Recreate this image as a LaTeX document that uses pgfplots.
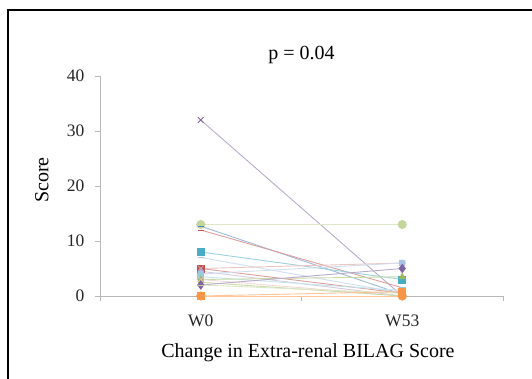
\documentclass[border=0pt]{standalone}
\usepackage{fontspec}
\setmainfont{Liberation Serif}
\usepackage{pgfplots}
\pgfplotsset{compat=1.18}
\definecolor{c1}{HTML}{4F81BD}
\definecolor{c2}{HTML}{C0504D}
\definecolor{c3}{HTML}{9BBB59}
\definecolor{c4}{HTML}{8064A2}
\definecolor{c5}{HTML}{4BACC6}
\definecolor{c6}{HTML}{F79646}
\definecolor{c7}{HTML}{A9C4E4}
\definecolor{c8}{HTML}{D99694}
\definecolor{c9}{HTML}{C3D69B}
\definecolor{c10}{HTML}{B3A2C7}
\definecolor{c11}{HTML}{92CDDC}
\definecolor{c12}{HTML}{E6B9B8}
\newcommand{\ser}[5]{\addplot[color=#1!55!white, line width=0.9pt, mark=#2, mark size=#3, mark options={draw=#1, fill=#1, solid, line width=1pt}] coordinates {(0,#4) (1,#5)};}
\begin{document}
\begin{tikzpicture}[x=1pt,y=1pt]
\useasboundingbox (0,0) rectangle (532,378);
\draw[line width=1.4pt] (8,-5) -- (8,368) -- (540,368);
\begin{axis}[
  at={(100pt,82pt)}, anchor=south west,
  scale only axis, width=403pt, height=220pt,
  xmin=-0.5, xmax=1.5, ymin=0, ymax=40,
  axis x line*=bottom, axis y line*=left,
  axis line style={draw=black!28, line width=0.8pt},
  tick style={draw=black!28, line width=0.8pt},
  tick align=outside, major tick length=5pt,
  xtick={-0.5,0.5,1.5}, xticklabels={},
  extra x ticks={0,1}, extra x tick labels={W0,W53},
  extra x tick style={major tick length=0pt, tick style={draw=none}},
  ytick={0,10,20,30,40},
  /pgf/number format/assume math mode=true,
  tick label style={font=\fontsize{17.5}{20}\selectfont, text=black!85},
  xticklabel style={yshift=-15pt},
  yticklabel style={xshift=-7pt},
  title={p = 0.04},
  title style={at={(axis description cs:0.5,1.069)}, anchor=center, font=\fontsize{20}{24}\selectfont},
  xlabel={Change in Extra-renal BILAG Score},
  xlabel style={at={(axis description cs:0.516,-0.26)}, anchor=center, font=\fontsize{20}{24}\selectfont},
  ylabel={Score},
  ylabel style={at={(axis description cs:-0.144,0.527)}, anchor=center, rotate=0, font=\fontsize{20}{24}\selectfont},
  clip=false,
]
\ser{c4}{x}{4pt}{32}{0}
\ser{c9}{*}{4pt}{13}{13}
\ser{c1}{-}{3pt}{12.7}{0.3}
\ser{c2}{-}{3pt}{12}{1.5}
\ser{c5}{square*}{3.5pt}{8}{3}
\ser{c7}{-}{3pt}{7}{0.5}
\ser{c2}{square*}{3.5pt}{5}{0.5}
\ser{c8}{x}{4pt}{5}{6}
\ser{c10}{diamond*}{3.5pt}{4.5}{0}
\ser{c7}{*}{3pt}{4}{6}
\ser{c11}{square*}{3pt}{3.5}{1}
\ser{c3}{triangle*}{3pt}{3}{3.5}
\ser{c12}{x}{3.5pt}{3}{0}
\ser{c3}{-}{3pt}{2.5}{0}
\ser{c4}{diamond*}{4pt}{2}{5}
\ser{c9}{-}{3pt}{2}{0.5}
\ser{c6}{square*}{3.5pt}{0}{0.8}
\ser{c6}{*}{4pt}{0}{0}
\end{axis}
\end{tikzpicture}
\end{document}
